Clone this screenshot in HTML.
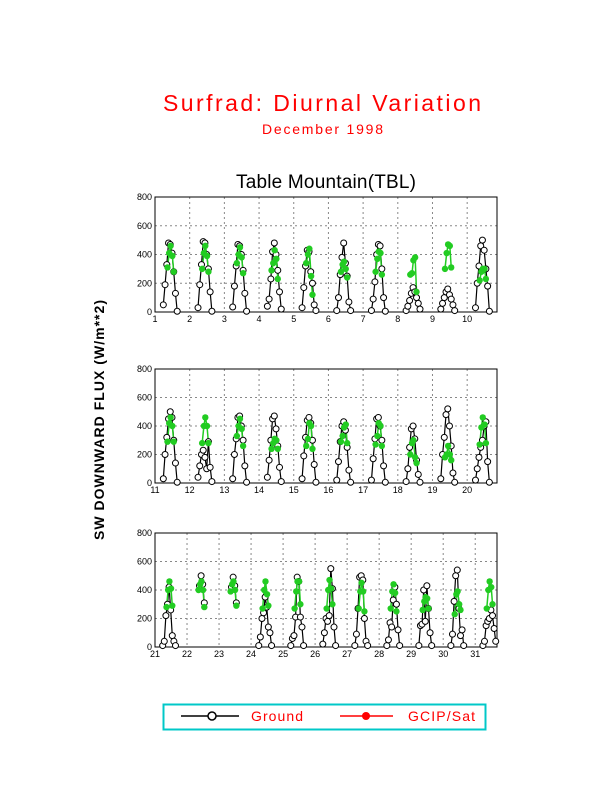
<!DOCTYPE html>
<html><head><meta charset="utf-8"><style>
body{margin:0;background:#fff;}
svg{display:block;font-family:"Liberation Sans",sans-serif;}
</style></head><body>
<svg id="chart" width="612" height="792" viewBox="0 0 612 792">
<text x="163" y="111" textLength="318" lengthAdjust="spacing" font-size="23" fill="#ff0000">Surfrad: Diurnal Variation</text>
<text x="262" y="134" textLength="121" lengthAdjust="spacing" font-size="14" fill="#ff0000">December 1998</text>
<text x="236" y="188" textLength="180" lengthAdjust="spacing" font-size="19" fill="#000">Table Mountain(TBL)</text>
<text transform="translate(104,540) rotate(-90)" textLength="240" lengthAdjust="spacing" font-size="14" font-weight="bold" fill="#000">SW DOWNWARD FLUX (W/m**2)</text>
<g id="panels"></g>
<g>
<rect x="163.5" y="704.5" width="322" height="25" fill="none" stroke="#00c8c8" stroke-width="2"/>
<line x1="181" y1="716" x2="239" y2="716" stroke="#000" stroke-width="1.5"/>
<circle cx="212" cy="716" r="4" fill="#fff" stroke="#000" stroke-width="1.5"/>
<text x="251" y="721" textLength="52" lengthAdjust="spacing" font-size="14" fill="#ff0000">Ground</text>
<line x1="340" y1="716" x2="393" y2="716" stroke="#ff0000" stroke-width="1.5"/>
<circle cx="366" cy="716" r="4" fill="#ff0000"/>
<text x="408" y="721" textLength="67" lengthAdjust="spacing" font-size="14" fill="#ff0000">GCIP/Sat</text>
</g>
</svg>
<script>
const groundOffsets=[0.24,0.29,0.34,0.39,0.44,0.49,0.54,0.59,0.64];
const satOffsets=[0.36,0.41,0.45,0.50,0.54];
const yTicks=[0,200,400,600,800];
const panel1Days=[1,2,3,4,5,6,7,8,9,10];
const panel1Ground=[
[50,190,330,480,470,410,280,130,5],[30,190,330,490,480,400,300,140,5],[35,180,320,470,460,400,290,130,5],
[40,90,230,420,480,400,290,140,20],[30,170,320,430,420,280,200,50,10],[10,100,260,380,480,340,250,70,10],
[10,90,210,400,470,460,300,100,5],[10,40,80,130,170,140,100,60,20],[20,60,100,140,160,120,90,50,10],
[30,200,320,460,500,430,300,180,5]];
const panel1Sat=[[310,410,460,390,280],[300,410,460,390,280],[340,400,450,380,270],[290,340,430,370,230],
[340,400,440,250,120],[280,330,350,300,240],[280,370,420,410,260],[260,270,360,380,140],[300,410,470,460,310],[220,280,300,300,230]];
const panel2Days=[11,12,13,14,15,16,17,18,19,20];
const panel2Ground=[
[30,200,320,450,500,460,300,140,5],[40,120,200,230,180,100,290,110,10],[30,200,310,460,470,400,300,120,5],
[40,160,300,450,470,380,260,110,10],[30,190,320,440,460,420,300,130,5],[20,150,290,400,430,370,250,90,5],
[20,170,310,450,460,400,300,120,5],[10,100,250,380,400,310,160,60,5],[30,200,320,480,520,400,260,70,5],
[20,100,180,250,300,400,430,150,5]];
const panel2Sat=[[290,420,460,400,290],[280,400,460,400,280],[330,400,450,380,260],[240,280,310,300,240],
[260,310,420,400,240],[290,330,390,410,280],[270,330,420,400,260],[200,280,300,180,140],[180,200,260,200,160],[270,390,460,410,280]];
const panel3Days=[21,22,23,24,25,26,27,28,29,30,31];
const panel3Ground=[
[10,40,220,300,420,260,80,40,10],[null,null,null,430,500,440,310,null,null],[null,null,null,420,490,430,310,null,null],
[10,70,200,240,350,280,140,100,10],[10,60,80,210,490,460,210,140,10],[20,100,200,180,220,550,410,140,10],
[10,90,270,490,500,470,200,40,10],[10,50,170,140,330,420,300,120,10],[10,150,160,400,180,430,270,100,10],
[10,90,320,500,540,270,80,120,10],[10,40,150,180,200,260,220,130,40]];
const panel3Sat=[[280,400,460,410,290],[400,440,460,400,280],[390,440,460,400,290],[270,400,460,370,290],
[270,390,460,460,300],[270,400,470,410,300],[270,390,450,390,250],[270,390,440,380,250],[260,320,350,340,270],
[230,370,390,300,260],[270,400,460,420,300]];

const NS='http://www.w3.org/2000/svg';
const root=document.getElementById('panels');
function mk(tag,attrs,parent){const e=document.createElementNS(NS,tag);for(const k in attrs)e.setAttribute(k,attrs[k]);parent.appendChild(e);return e;}

function drawPanel(idx,days,ground,sat,top,bottom,xMax){
  const left=155,right=497;
  const x0=days[0];
  const g=mk('g',{},root);
  
  
  const xs=v=>left+(v-x0)/(xMax-x0)*(right-left);
  const ys=v=>bottom-v/800*(bottom-top);
  days.forEach(d=>{
    if(d!==x0) mk('line',{x1:xs(d),y1:top,x2:xs(d),y2:bottom,stroke:'#888','stroke-dasharray':'2,3','stroke-width':1},g);
    const t=mk('text',{x:xs(d),y:bottom+10,'text-anchor':'middle','font-size':9,fill:'#000'},g);
    t.textContent=d;
    
    
  });
  yTicks.forEach(v=>{
    if(v>0&&v<800) mk('line',{x1:left,y1:ys(v),x2:right,y2:ys(v),stroke:'#888','stroke-dasharray':'2,3','stroke-width':1},g);
    const t=mk('text',{x:left-3,y:ys(v)+3,'text-anchor':'end','font-size':9,fill:'#000'},g);
    t.textContent=v;
    
    
  });
  const fr=mk('rect',{x:left,y:top,width:right-left,height:bottom-top,fill:'none',stroke:'#000','stroke-width':1},g);
  
  
  days.forEach((d,i)=>{
    const pts=[];
    ground[i].forEach((v,j)=>{if(v!==null)pts.push([xs(d+groundOffsets[j]),ys(v)]);});
    const pl=mk('polyline',{points:pts.map(p=>p.join(',')).join(' '),fill:'none',stroke:'#000','stroke-width':1.2},g);
    
    
    const sp=sat[i].map((v,j)=>[xs(d+satOffsets[j]),ys(v)]);
    const sl=mk('polyline',{points:sp.map(p=>p.join(',')).join(' '),fill:'none',stroke:'#22cc22','stroke-width':1.5},g);
    
    
    pts.forEach(p=>{
      const c=mk('circle',{cx:p[0],cy:p[1],r:3,fill:'#fff',stroke:'#000','stroke-width':1},g);
      
      
    });
    sp.forEach(p=>{
      const c=mk('circle',{cx:p[0],cy:p[1],r:3.2,fill:'#22cc22'},g);
      
      
    });
  });
}
drawPanel(1,panel1Days,panel1Ground,panel1Sat,197,312,10.86);
drawPanel(2,panel2Days,panel2Ground,panel2Sat,369,483,20.86);
drawPanel(3,panel3Days,panel3Ground,panel3Sat,533,647,31.68);
</script>
</body></html>
